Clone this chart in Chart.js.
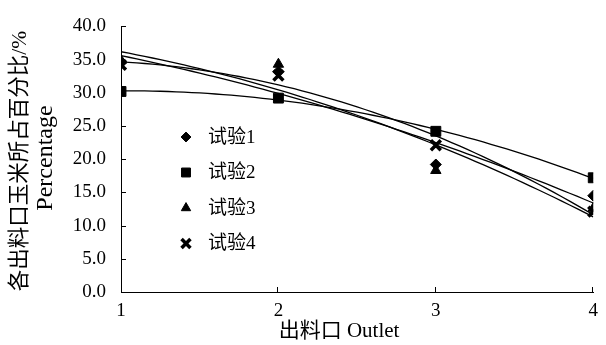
<!DOCTYPE html>
<html>
<head>
<meta charset="utf-8">
<script src="https://cdn.jsdelivr.net/npm/chart.js@4/dist/chart.umd.min.js"></script>
<style>
  html, body { margin: 0; padding: 0; background: #fff; }
  #wrap { width: 606px; height: 345px; }
</style>
</head>
<body>
<div id="wrap"><canvas id="c" width="606" height="345"></canvas></div>
<script>
// ---- data ----
const outlets = [1, 2, 3, 4];
const seriesNames = ['试验1', '试验2', '试验3', '试验4'];
const trial1 = [34.5, 33.2, 19.2, 14.5];
const trial2 = [30.2, 29.2, 24.2, 17.2];
const trial3 = [34.9, 34.3, 18.3, 12.6];
const trial4 = [34.2, 32.6, 22.1, 12.1];
const yTicks = [0, 5, 10, 15, 20, 25, 30, 35, 40];
const xTicks = [1, 2, 3, 4];
const xTitle = '出料口 Outlet';
const yTitleCn = '各出料口玉米所占百分比/%';
const yTitleEn = 'Percentage';

const FONT = "'Liberation Serif', 'Noto Sans CJK SC', serif";

// second-order polynomial trendline (least squares), as in the original
function quadFit(xs, ys) {
  let n = xs.length, sx = 0, sx2 = 0, sx3 = 0, sx4 = 0, sy = 0, sxy = 0, sx2y = 0;
  for (let i = 0; i < n; i++) {
    const x = xs[i], y = ys[i];
    sx += x; sx2 += x * x; sx3 += x * x * x; sx4 += x * x * x * x;
    sy += y; sxy += x * y; sx2y += x * x * y;
  }
  const M = [[n, sx, sx2, sy], [sx, sx2, sx3, sxy], [sx2, sx3, sx4, sx2y]];
  for (let i = 0; i < 3; i++) {
    for (let k = i + 1; k < 3; k++) {
      const f = M[k][i] / M[i][i];
      for (let j = i; j < 4; j++) M[k][j] -= f * M[i][j];
    }
  }
  const c = [0, 0, 0];
  for (let i = 2; i >= 0; i--) {
    let s = M[i][3];
    for (let j = i + 1; j < 3; j++) s -= M[i][j] * c[j];
    c[i] = s / M[i][i];
  }
  return x => c[0] + c[1] * x + c[2] * x * x;
}
function trendPoints(ys) {
  const f = quadFit(outlets, ys);
  const pts = [];
  for (let i = 0; i <= 60; i++) {
    const x = outlets[0] + (outlets[outlets.length - 1] - outlets[0]) * i / 60;
    pts.push({ x: x, y: f(x) });
  }
  return pts;
}
const toPts = ys => outlets.map((x, i) => ({ x: x, y: ys[i] }));

const allSeries = [trial1, trial2, trial3, trial4];
const styles = [
  { pointStyle: 'rectRot', radius: 5.5, borderWidth: 1 },
  { pointStyle: 'rect', radius: 7, borderWidth: 1 },
  { pointStyle: 'triangle', radius: 6, borderWidth: 1 },
  { pointStyle: 'crossRot', radius: 7, borderWidth: 3.5 }
];

const datasets = [];
allSeries.forEach((ys, i) => {
  datasets.push({
    label: seriesNames[i] + ' trend',
    data: trendPoints(ys),
    showLine: true,
    borderColor: '#000',
    borderWidth: 1.3,
    pointRadius: 0,
    fill: false,
    order: 2
  });
});
allSeries.forEach((ys, i) => {
  datasets.push({
    label: seriesNames[i],
    data: toPts(ys),
    showLine: false,
    backgroundColor: '#000',
    borderColor: '#000',
    pointStyle: styles[i].pointStyle,
    pointRadius: styles[i].radius,
    pointBorderWidth: styles[i].borderWidth,
    order: 1
  });
});

// inner tick marks, axis titles and in-plot legend
const decorPlugin = {
  id: 'decor',
  afterDraw(chart) {
    const ctx = chart.ctx;
    const xs = chart.scales.x, ys = chart.scales.y;
    const ca = chart.chartArea;
    ctx.save();
    ctx.strokeStyle = '#000';
    ctx.lineWidth = 1;
    ctx.beginPath();
    yTicks.forEach(v => {
      const py = Math.round(ys.getPixelForValue(v)) + 0.5;
      ctx.moveTo(ca.left, py);
      ctx.lineTo(ca.left + 5, py);
    });
    xTicks.forEach(v => {
      if (v === xTicks[0]) return;
      const px = Math.round(xs.getPixelForValue(v)) - 0.5;
      ctx.moveTo(px, ca.bottom);
      ctx.lineTo(px, ca.bottom - 5);
    });
    ctx.stroke();

    // x axis title
    ctx.fillStyle = '#000';
    ctx.font = '21px ' + FONT;
    ctx.textAlign = 'center';
    ctx.textBaseline = 'middle';
    ctx.fillText(xTitle, 339, 331);

    // y axis title (two lines, rotated)
    ctx.save();
    ctx.translate(20, 161);
    ctx.rotate(-Math.PI / 2);
    ctx.font = '21.5px ' + FONT;
    ctx.fillText(yTitleCn, 0, 0);
    ctx.restore();
    ctx.save();
    ctx.translate(46, 158);
    ctx.rotate(-Math.PI / 2);
    ctx.font = '24px ' + FONT;
    ctx.fillText(yTitleEn, 0, 0);
    ctx.restore();

    // legend
    const legendX = 186, textX = 208, firstY = 137, gap = 35.5;
    ctx.font = '19px ' + FONT;
    ctx.textBaseline = 'middle';
    ctx.textAlign = 'left';
    seriesNames.forEach((name, i) => {
      const y = firstY + i * gap;
      const st = styles[i];
      ctx.fillStyle = '#000';
      ctx.strokeStyle = '#000';
      ctx.lineWidth = st.borderWidth;
      Chart.helpers.drawPoint(ctx, { pointStyle: st.pointStyle, radius: st.radius * 0.9, rotation: 0, borderWidth: st.borderWidth }, legendX, y);
      ctx.fillText(name, textX, y + 1);
    });
    ctx.restore();
  }
};

Chart.defaults.color = '#000';
Chart.defaults.font.family = FONT;

new Chart(document.getElementById('c'), {
  type: 'scatter',
  data: { datasets: datasets },
  options: {
    responsive: false,
    devicePixelRatio: 1,
    animation: false,
    layout: { padding: { top: 21, right: 8, left: 0, bottom: 0 } },
    plugins: { legend: { display: false }, tooltip: { enabled: false } },
    scales: {
      x: {
        type: 'linear',
        min: 1, max: 4,
        afterBuildTicks(scale) { scale.ticks = xTicks.map(v => ({ value: v })); },
        afterFit(scale) { scale.height = 53; },
        grid: { display: true, drawOnChartArea: false, drawTicks: false },
        border: { display: true, color: '#000', width: 1 },
        ticks: { padding: 8, font: { size: 19, family: FONT }, color: '#000', maxRotation: 0,
                 callback: v => String(v) },
        title: { display: false }
      },
      y: {
        type: 'linear',
        min: 0, max: 40,
        afterBuildTicks(scale) { scale.ticks = yTicks.map(v => ({ value: v })); },
        afterFit(scale) { scale.width = 121; },
        grid: { display: true, drawOnChartArea: false, drawTicks: false },
        border: { display: true, color: '#000', width: 1 },
        ticks: { padding: 15, font: { size: 19, family: FONT }, color: '#000',
                 callback: v => Number(v).toFixed(1) },
        title: { display: false }
      }
    }
  },
  plugins: [decorPlugin]
});
</script>
</body>
</html>
